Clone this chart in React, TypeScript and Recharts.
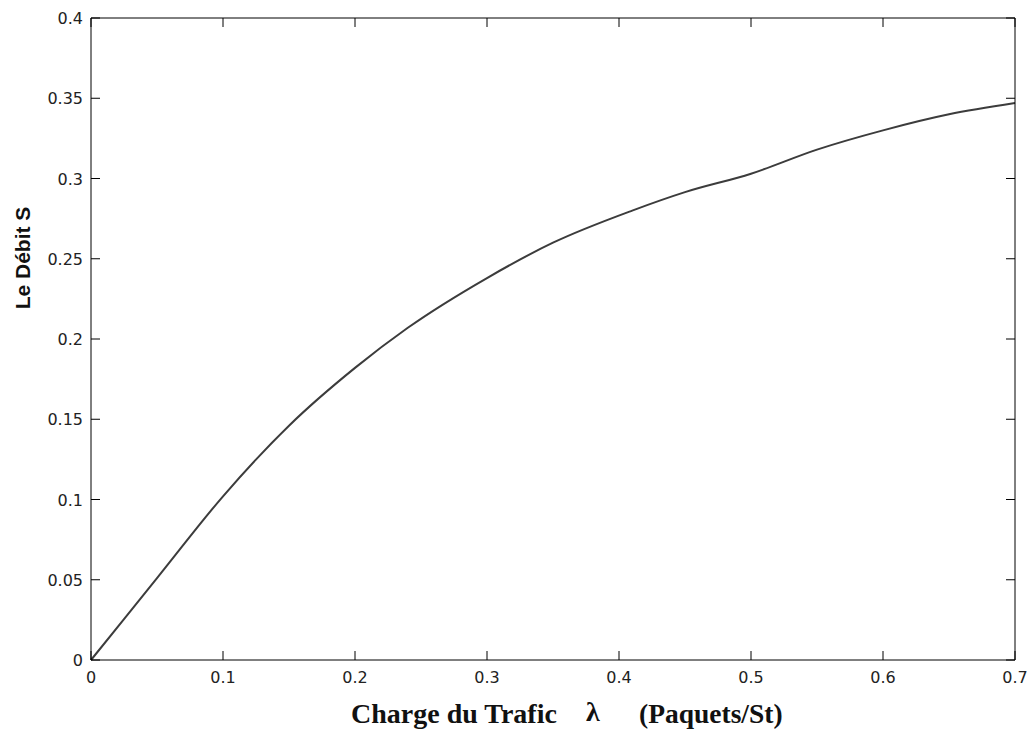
import { Label, Line, LineChart, XAxis, YAxis } from "recharts";

// lambda (paquets/St) and throughput S
const charge = [0, 0.05, 0.1, 0.15, 0.2, 0.24, 0.3, 0.35, 0.41, 0.45, 0.5, 0.55, 0.6, 0.65, 0.7];
const debit = [0, 0.051, 0.102, 0.146, 0.182, 0.207, 0.238, 0.26, 0.28, 0.2915, 0.303, 0.318, 0.33, 0.34, 0.347];

const xTicks = [0, 0.1, 0.2, 0.3, 0.4, 0.5, 0.6, 0.7];
const yTicks = [0, 0.05, 0.1, 0.15, 0.2, 0.25, 0.3, 0.35, 0.4];

const data = charge.map((c, i) => ({ c, s: debit[i] }));

const TICK = 9;
const tickFont = { fontFamily: "DejaVu Sans", fontSize: 16, fill: "#222" };

const BottomTick = (p: any) => (
  <g>
    <line x1={p.x} x2={p.x} y1={p.y} y2={p.y - TICK} stroke="#000" />
    <text x={p.x} y={p.y + 23} textAnchor="middle" {...tickFont}>
      {p.payload.value}
    </text>
  </g>
);

const TopTick = (p: any) => (
  <line x1={p.x} x2={p.x} y1={p.y} y2={p.y + TICK} stroke="#000" />
);

const LeftTick = (p: any) => (
  <g>
    <line x1={p.x} x2={p.x + TICK} y1={p.y} y2={p.y} stroke="#000" />
    <text x={p.x - 8} y={p.y + 6} textAnchor="end" {...tickFont}>
      {p.payload.value}
    </text>
  </g>
);

const RightTick = (p: any) => (
  <line x1={p.x} x2={p.x - TICK} y1={p.y} y2={p.y} stroke="#000" />
);

const XTitle = () => (
  <g fontFamily="Liberation Serif" fontWeight="bold" fill="#111">
    <text x={351} y={723} fontSize={28}>Charge du Trafic</text>
    <text x={586} y={721} fontSize={28}>λ</text>
    <text x={639} y={723} fontSize={27.5}>(Paquets/St)</text>
  </g>
);

const YTitle = () => (
  <text
    x={30}
    y={258}
    transform="rotate(-90 30 258)"
    textAnchor="middle"
    fontFamily="Liberation Sans"
    fontWeight="bold"
    fontSize={21}
    fill="#111"
  >
    Le Débit S
  </text>
);

export default function App() {
  return (
    <div style={{ position: "absolute", left: 0, top: 0, width: 1029, height: 731, background: "#fff" }}>
      <LineChart width={1029} height={731} data={data} margin={{ top: 17, right: 13, bottom: 0, left: 0 }}>
        <XAxis
          xAxisId="bottom"
          dataKey="c"
          type="number"
          domain={[0, 0.7]}
          ticks={xTicks}
          interval={0}
          height={71}
          tickSize={0}
          tickMargin={0}
          tickLine={false}
          axisLine={{ stroke: "#000" }}
          tick={BottomTick}
        >
          <Label content={XTitle} />
        </XAxis>
        <XAxis
          xAxisId="top"
          orientation="top"
          dataKey="c"
          type="number"
          domain={[0, 0.7]}
          ticks={xTicks}
          interval={0}
          height={1}
          tickSize={0}
          tickMargin={0}
          tickLine={false}
          axisLine={{ stroke: "#000" }}
          tick={TopTick}
        />
        <YAxis
          yAxisId="left"
          type="number"
          domain={[0, 0.4]}
          ticks={yTicks}
          interval={0}
          width={91}
          tickSize={0}
          tickMargin={0}
          tickLine={false}
          axisLine={{ stroke: "#000" }}
          tick={LeftTick}
        >
          <Label content={YTitle} />
        </YAxis>
        <YAxis
          yAxisId="right"
          orientation="right"
          type="number"
          domain={[0, 0.4]}
          ticks={yTicks}
          interval={0}
          width={1}
          tickSize={0}
          tickMargin={0}
          tickLine={false}
          axisLine={{ stroke: "#000" }}
          tick={RightTick}
        />
        {/* invisible series so the mirrored top/right axes get drawn */}
        <Line
          xAxisId="top"
          yAxisId="right"
          dataKey="s"
          stroke="transparent"
          dot={false}
          activeDot={false}
          legendType="none"
          isAnimationActive={false}
        />
        <Line
          xAxisId="bottom"
          yAxisId="left"
          dataKey="s"
          type="monotone"
          stroke="#3c3c3c"
          strokeWidth={2}
          dot={false}
          isAnimationActive={false}
        />
      </LineChart>
    </div>
  );
}
